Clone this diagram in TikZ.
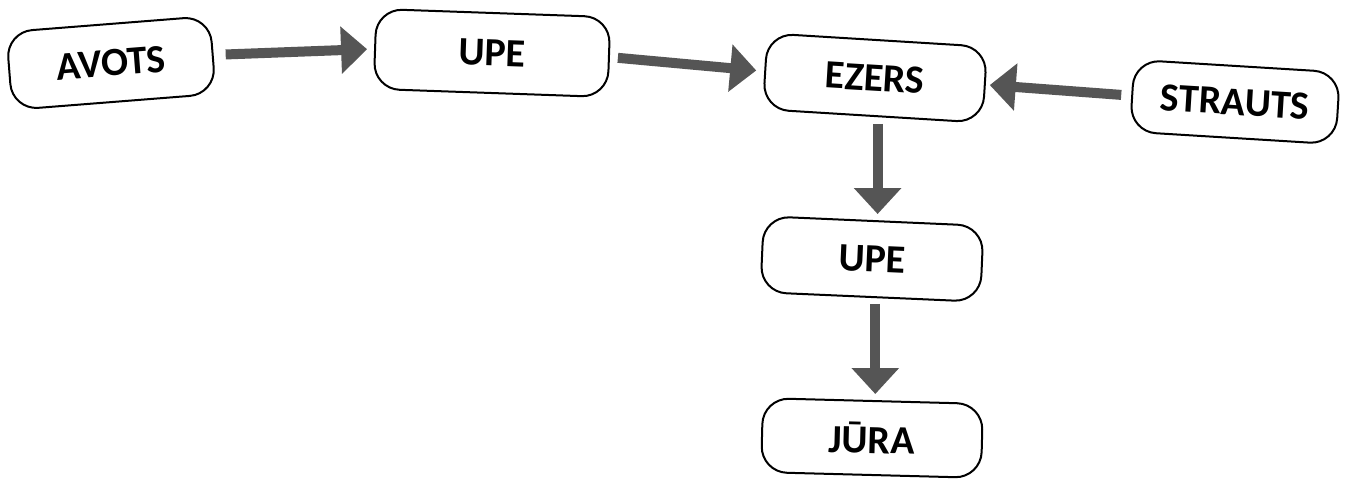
\documentclass[tikz,border=0pt]{standalone}
\usepackage{fontspec}
\setmainfont{Carlito}
\usetikzlibrary{arrows.meta}
\definecolor{arrowgray}{HTML}{555555}
\tikzset{
  box/.style={draw=black, line width=1pt, rounded corners=13pt, fill=white,
    inner sep=0pt, font=\fontsize{20}{24}\selectfont\bfseries},
  flow/.style={draw=arrowgray, line width=5pt,
    -{Triangle[length=13pt,width=23pt]}},
}
\begin{document}
\begin{tikzpicture}[x=0.5pt,y=-0.5pt]
\useasboundingbox[fill=white] (0,0) rectangle (1346,481);
\node[box, minimum width=102pt, minimum height=39pt, rotate=4.5] (avots) at (111,63) {AVOTS};
\node[box, minimum width=117pt, minimum height=40pt, rotate=-2] (upe1) at (492,53) {UPE};
\node[box, minimum width=110pt, minimum height=38pt, rotate=-3.5] (ezers) at (875,78) {EZERS};
\node[box, minimum width=103pt, minimum height=36pt, rotate=-3.5] (straut) at (1235,102) {STRAUTS};
\node[box, minimum width=110pt, minimum height=38pt, rotate=-2.5] (upe2) at (872,259) {UPE};
\node[box, minimum width=110pt, minimum height=37pt, rotate=-1.5] (jura) at (872,438) {JŪRA};

\draw[flow, shorten <=6pt, shorten >=3.5pt] (avots.east) -- (upe1.west);
\draw[flow, shorten <=4pt, shorten >=4pt] (upe1.east) -- (ezers.west);
\draw[flow, shorten <=5pt, shorten >=2pt] (straut.west) -- (ezers.east);
\coordinate (d1) at ([xshift=2.5pt]ezers.south);
\draw[flow, shorten <=3.5pt, shorten >=3pt] (d1) -- (d1 |- upe2.north);
\coordinate (d2) at ([xshift=2.5pt]upe2.south);
\draw[flow, shorten <=3pt, shorten >=3pt] (d2) -- (d2 |- jura.north);
\end{tikzpicture}
\end{document}
